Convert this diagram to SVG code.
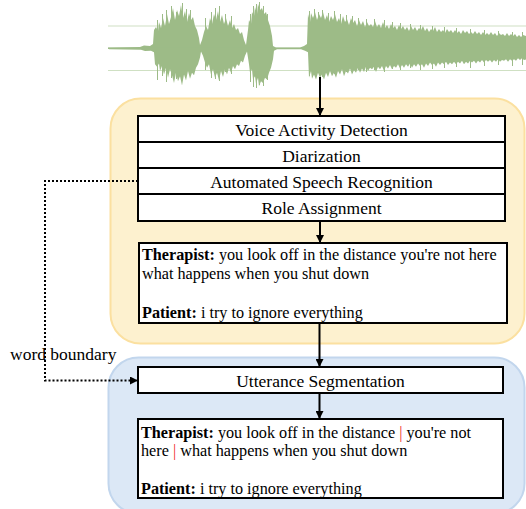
<svg xmlns="http://www.w3.org/2000/svg" xmlns:xlink="http://www.w3.org/1999/xlink" width="526" height="509" viewBox="0 0 526 509">
<style>
.box{fill:#fff;stroke:#000;stroke-width:2}
.t{font-family:"Liberation Serif","Times New Roman",serif;font-size:17.5px;fill:#000}
.c{text-anchor:middle}
.s{font-size:16.2px}
.b{font-weight:bold}
.red{fill:#f0282a}
.con{fill:none;stroke:#000;stroke-width:2}
.dot{stroke-dasharray:2 2}
.grid{stroke:#cfe0c3;stroke-width:1.2}
</style>
<defs>
<marker id="ah" viewBox="0 0 8 8" refX="7" refY="4" markerWidth="4" markerHeight="4" orient="auto" markerUnits="strokeWidth">
<path d="M0,0 L8,4 L0,8 z" fill="#000"/>
</marker>
<polygon id="wu" points="108,48.5 108,47.5 140,47 144,45.5 150,46 153,44 154,30 156,27 158,31 159,22 161,28 163,18 165,26 167,14 169,24 171,17 173,8 175,20 177,10 179,16 181,5 183,18 185,11 187,22 189,13 191,20 193,17 195,26 197,30 199,38 200,45 202,40 204,32 206,26 208,30 210,18 212,24 214,14 216,20 218,11 220,22 222,15 224,24 226,18 228,26 230,20 232,28 234,24 236,30 238,28 240,34 242,32 244,40 246,45 248,30 249,20 251,24 252,12 254,16 255,7 257,14 258,4 260,10 262,8 264,14 266,12 268,20 270,26 272,36 273,46 276,47.5 300,47.5 304,46 307,44 308,14 310,22 311,13 313,18 315,12 317,20 319,14 321,18 323,12 325,20 327,15 329,22 331,16 333,20 335,14 337,22 339,18 341,24 343,16 345,22 347,19 349,25 351,18 353,23 355,20 357,26 359,20 361,25 363,21 365,27 367,22 369,26 371,24 373,27 375,21 377,27 379,24 381,28 383,22 385,28 387,25 389,29 391,24 393,28 395,26 397,30 399,25 401,29 403,26 405,30 407,27 409,31 411,26 413,30 415,27 417,31 419,28 421,30 423,26 425,31 427,28 429,32 431,29 433,31 435,27 437,32 439,29 441,32 443,30 445,33 447,29 449,32 451,30 453,33 455,30 457,33 459,31 461,34 463,30 465,33 467,31 469,34 471,32 473,34 475,31 477,34 479,32 481,35 483,32 485,35 487,33 489,35 491,32 493,35 495,33 497,36 499,33 501,35 503,34 505,36 507,33 509,36 511,34 513,36 515,34 517,37 519,35 521,37 523,35 526,36 526,48.5"/>
</defs>

<g id="waveform">
<line class="grid" x1="108" y1="26" x2="526" y2="26"/>
<line class="grid" x1="108" y1="70.5" x2="526" y2="70.5"/>
<g fill="#9dbb87">
<use xlink:href="#wu"/>
<use xlink:href="#wu" transform="translate(1,48.5) scale(1,-0.85) translate(0,-48.5)"/>
</g>
<path stroke="#9dbb87" stroke-width="1" fill="none" d="M157.5,20V80 M162.5,14V76 M166.5,10V82 M171.5,6V78 M176.5,12V79 M182.5,3V80 M186.5,9V76 M190.5,10V74 M205.5,18V70 M211.5,12V78 M215.5,8V79 M219.5,6V81 M225.5,14V72 M231.5,16V74 M250.5,14V82 M253.5,6V87 M256.5,4V88 M259.5,2V85 M263.5,6V86 M267.5,14V80 M309.5,11V76 M314.5,9V75 M318.5,12V72 M322.5,10V77 M328.5,13V72 M334.5,11V74 M340.5,14V71 M346.5,15V72 M352.5,16V73 M358.5,18V70 M366.5,19V72 M374.5,19V70 M384.5,20V72 M392.5,22V69 M400.5,23V70 M410.5,24V68 M420.5,25V70 M432.5,26V69 M444.5,27V68 M456.5,28V67 M470.5,29V68 M484.5,30V66 M498.5,31V65 M512.5,32V66 M522.5,32V65"/>
<line x1="108" y1="48.3" x2="526" y2="48.3" stroke="#9dbb87" stroke-width="1.2"/>
</g>

<g id="asr-container">
<rect x="110.5" y="98.5" width="414" height="245" rx="30" fill="#fdf1cf" stroke="#fbe0a0" stroke-width="2"/>
</g>
<g id="seg-container">
<rect x="108.5" y="357.5" width="416" height="156" rx="30" fill="#dce8f6" stroke="#c2d6ed" stroke-width="2"/>
</g>

<g id="vad">
<rect class="box" x="138" y="116" width="367" height="26"/>
<text class="t c" x="321.5" y="135.5">Voice Activity Detection</text>
</g>
<g id="diarization">
<rect class="box" x="138" y="142" width="367" height="26"/>
<text class="t c" x="321.5" y="161.5">Diarization</text>
</g>
<g id="asr">
<rect class="box" x="138" y="168" width="367" height="26"/>
<text class="t c" x="321.5" y="188">Automated Speech Recognition</text>
</g>
<g id="role">
<rect class="box" x="138" y="194" width="367" height="27"/>
<text class="t c" x="321.5" y="214">Role Assignment</text>
</g>

<g id="transcript1">
<rect class="box" x="139" y="243" width="368" height="80"/>
<text class="t s" x="142" y="260"><tspan class="b">Therapist:</tspan> you look off in the distance you're not here</text>
<text class="t s" x="142" y="278.5">what happens when you shut down</text>
<text class="t s" x="142" y="317.5"><tspan class="b">Patient:</tspan> i try to ignore everything</text>
</g>

<g id="utterance-seg">
<rect class="box" x="138" y="367" width="365" height="26"/>
<text class="t c" x="320.5" y="387">Utterance Segmentation</text>
</g>

<g id="transcript2">
<rect class="box" x="138" y="419" width="365" height="79"/>
<text class="t s" x="141" y="437.5"><tspan class="b">Therapist:</tspan> you look off in the distance <tspan class="red">|</tspan> you're not</text>
<text class="t s" x="141" y="456">here <tspan class="red">|</tspan> what happens when you shut down</text>
<text class="t s" x="141" y="494"><tspan class="b">Patient:</tspan> i try to ignore everything</text>
</g>

<g id="connectors">
<line class="con" x1="320" y1="77" x2="320" y2="115" marker-end="url(#ah)"/>
<line class="con" x1="320" y1="221" x2="320" y2="242" marker-end="url(#ah)"/>
<line class="con" x1="319.5" y1="323" x2="319.5" y2="366" marker-end="url(#ah)"/>
<line class="con" x1="319.5" y1="393" x2="319.5" y2="418" marker-end="url(#ah)"/>
<path class="con dot" d="M138,181 H45 V380.5 H137" marker-end="url(#ah)"/>
<text class="t" x="10" y="360">word boundary</text>
</g>
</svg>
